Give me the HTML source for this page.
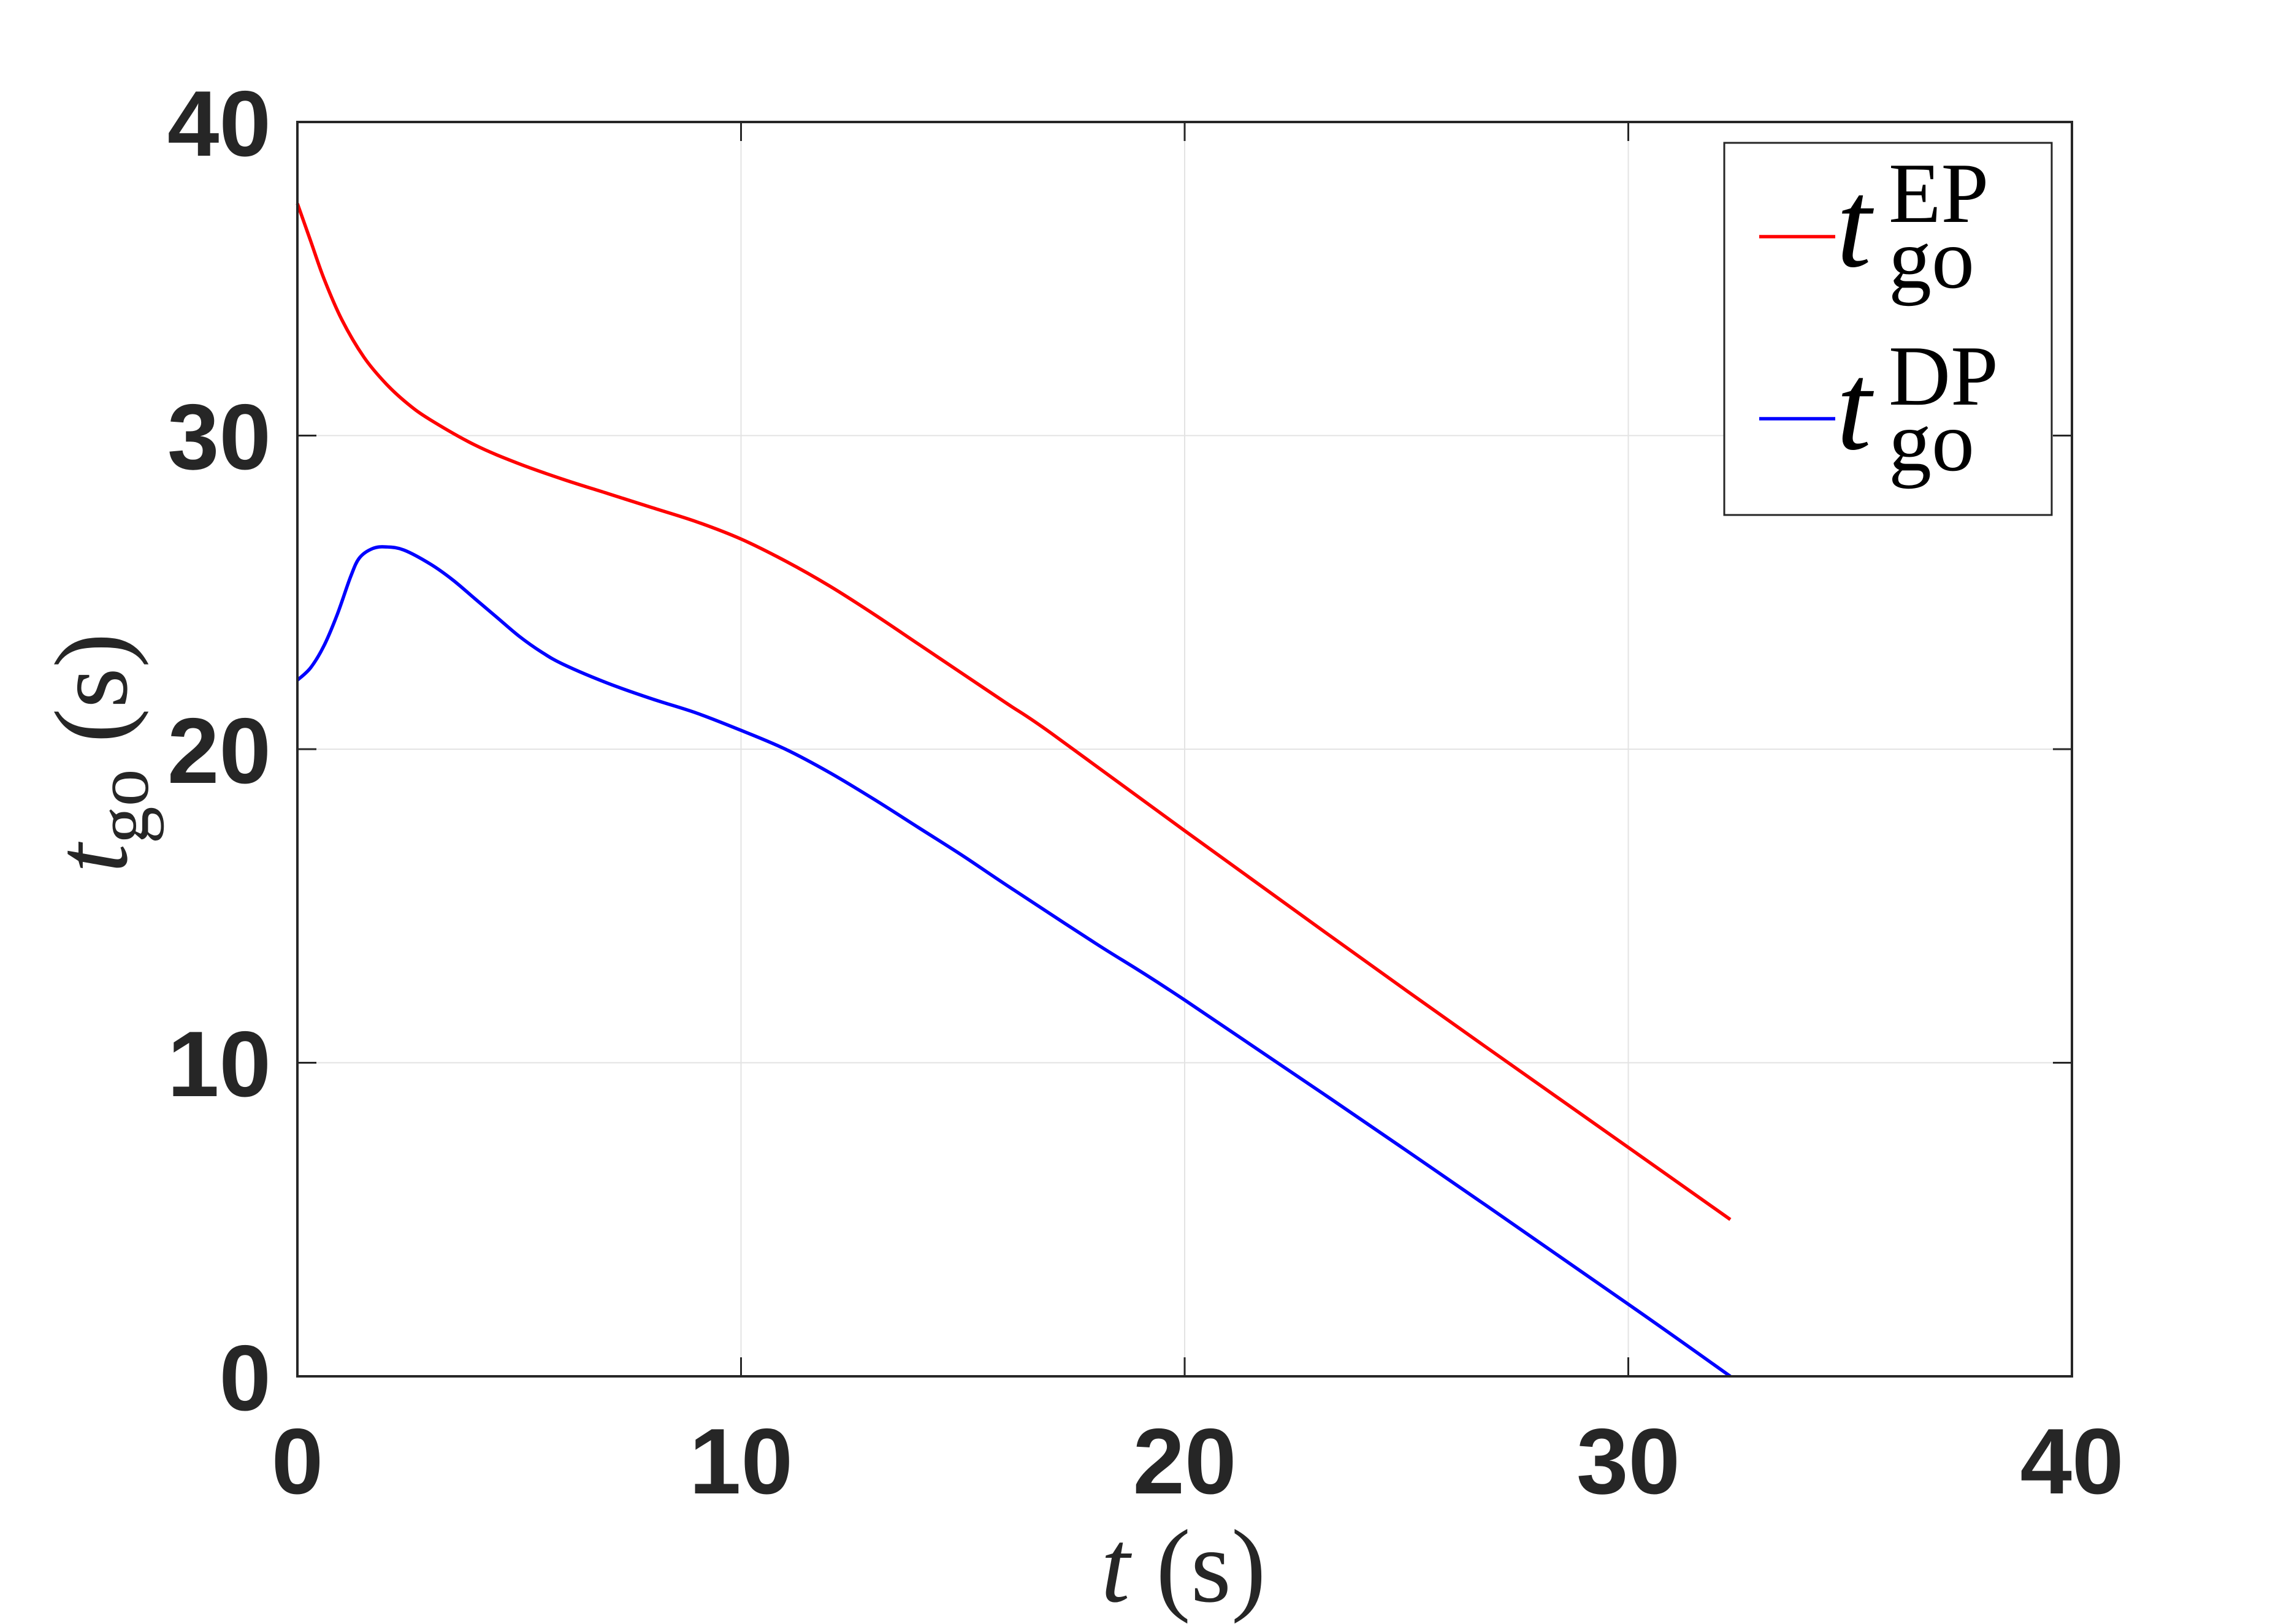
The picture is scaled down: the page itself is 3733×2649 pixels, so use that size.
<!DOCTYPE html>
<html><head><meta charset="utf-8"><style>html,body{margin:0;padding:0;background:#fff}svg{display:block}</style></head>
<body>
<svg id="s" width="3733" height="2649" viewBox="0 0 3733 2649" xmlns="http://www.w3.org/2000/svg">
<rect width="3733" height="2649" fill="#fff"/>
<g stroke="#e3e3e3" stroke-width="2">
<line x1="1208.5" y1="199" x2="1208.5" y2="2245"/>
<line x1="1932" y1="199" x2="1932" y2="2245"/>
<line x1="2655.5" y1="199" x2="2655.5" y2="2245"/>
<line x1="485" y1="1733.5" x2="3379" y2="1733.5"/>
<line x1="485" y1="1222" x2="3379" y2="1222"/>
<line x1="485" y1="710.5" x2="3379" y2="710.5"/>
</g>
<path id="red" fill="none" stroke="#ff0000" stroke-width="5.5" stroke-linejoin="round"/>
<path id="blue" fill="none" stroke="#0000ff" stroke-width="5.5" stroke-linejoin="round"/>
<rect x="485" y="199" width="2894" height="2046" fill="none" stroke="#262626" stroke-width="4"/>
<g stroke="#262626" stroke-width="3">
<line x1="1208.5" y1="2245" x2="1208.5" y2="2214"/><line x1="1208.5" y1="199" x2="1208.5" y2="230"/>
<line x1="1932" y1="2245" x2="1932" y2="2214"/><line x1="1932" y1="199" x2="1932" y2="230"/>
<line x1="2655.5" y1="2245" x2="2655.5" y2="2214"/><line x1="2655.5" y1="199" x2="2655.5" y2="230"/>
<line x1="485" y1="1733.5" x2="516" y2="1733.5"/><line x1="3379" y1="1733.5" x2="3348" y2="1733.5"/>
<line x1="485" y1="1222" x2="516" y2="1222"/><line x1="3379" y1="1222" x2="3348" y2="1222"/>
<line x1="485" y1="710.5" x2="516" y2="710.5"/><line x1="3379" y1="710.5" x2="3348" y2="710.5"/>
</g>
<g font-family="Liberation Sans, sans-serif" font-weight="bold" font-size="152" fill="#262626">
<g text-anchor="end">
<text x="442" y="2300">0</text>
<text x="442" y="1788">10</text>
<text x="442" y="1277">20</text>
<text x="442" y="765">30</text>
<text x="442" y="254">40</text>
</g>
<g text-anchor="middle">
<text x="485" y="2436">0</text>
<text x="1208.5" y="2436">10</text>
<text x="1932" y="2436">20</text>
<text x="2655.5" y="2436">30</text>
<text x="3379" y="2436">40</text>
</g>
</g>
<g font-family="Liberation Serif, serif" fill="#262626" font-size="170">
<text x="1930" y="2612" text-anchor="middle"><tspan font-style="italic">t</tspan> (s)</text>
<text transform="translate(206,1228) rotate(-90)" text-anchor="middle"><tspan font-style="italic">t</tspan><tspan font-size="122" dy="35">go</tspan><tspan dy="-35"> (s)</tspan></text>
</g>
<rect x="2812" y="233" width="534" height="607" fill="#fff" stroke="#262626" stroke-width="3"/>
<line x1="2869" y1="386" x2="2993" y2="386" stroke="#ff0000" stroke-width="5.5"/>
<line x1="2869" y1="683" x2="2993" y2="683" stroke="#0000ff" stroke-width="5.5"/>
<g font-family="Liberation Serif, serif" fill="#000">
<text x="2995" y="434" font-size="205" font-style="italic">t</text>
<text x="3080" y="362" font-size="140">EP</text>
<text x="3080" y="469" font-size="140">go</text>
<text x="2995" y="732" font-size="205" font-style="italic">t</text>
<text x="3080" y="660" font-size="140">DP</text>
<text x="3080" y="767" font-size="140">go</text>
</g>
</svg>
<script>
function X(t){return 485+72.35*t}function Y(v){return 2245-51.15*v}
function path(d){var p=d.map(function(a){return [X(a[0]),Y(a[1])]});var s="M"+p[0][0]+","+p[0][1];
for(var i=0;i<p.length-1;i++){var p0=p[i-1]||p[i],p1=p[i],p2=p[i+1],p3=p[i+2]||p2;
s+=" C"+(p1[0]+(p2[0]-p0[0])/6)+","+(p1[1]+(p2[1]-p0[1])/6)+" "+(p2[0]-(p3[0]-p1[0])/6)+","+(p2[1]-(p3[1]-p1[1])/6)+" "+p2[0]+","+p2[1];}
return s;}
var r=[[0,37.4],[0.3,36.2],[0.6,35.0],[1,33.7],[1.5,32.5],[2,31.65],[2.5,31.0],[3,30.5],[4,29.7],[5,29.1],[6,28.6],[7,28.15],[8,27.7],[9,27.25],[10,26.7],[11,26.0],[12,25.2],[13,24.3],[14,23.35],[15,22.4],[16,21.45],[17,20.5],[20,17.4],[25,12.3],[30,7.3],[32.3,5.0]];
var b=[[0,22.2],[0.3,22.6],[0.6,23.3],[0.9,24.3],[1.2,25.5],[1.4,26.1],[1.7,26.4],[2,26.45],[2.4,26.35],[3,25.9],[3.5,25.4],[4,24.8],[4.5,24.2],[5,23.6],[5.5,23.1],[6,22.7],[7,22.1],[8,21.6],[9,21.15],[10,20.6],[11,20.0],[12,19.25],[13,18.4],[14,17.5],[15,16.6],[16,15.65],[18,13.8],[20,12.0],[25,7.2],[30,2.3],[32.3,0]];
document.getElementById("red").setAttribute("d",path(r));
document.getElementById("blue").setAttribute("d",path(b));
</script>
</body></html>
